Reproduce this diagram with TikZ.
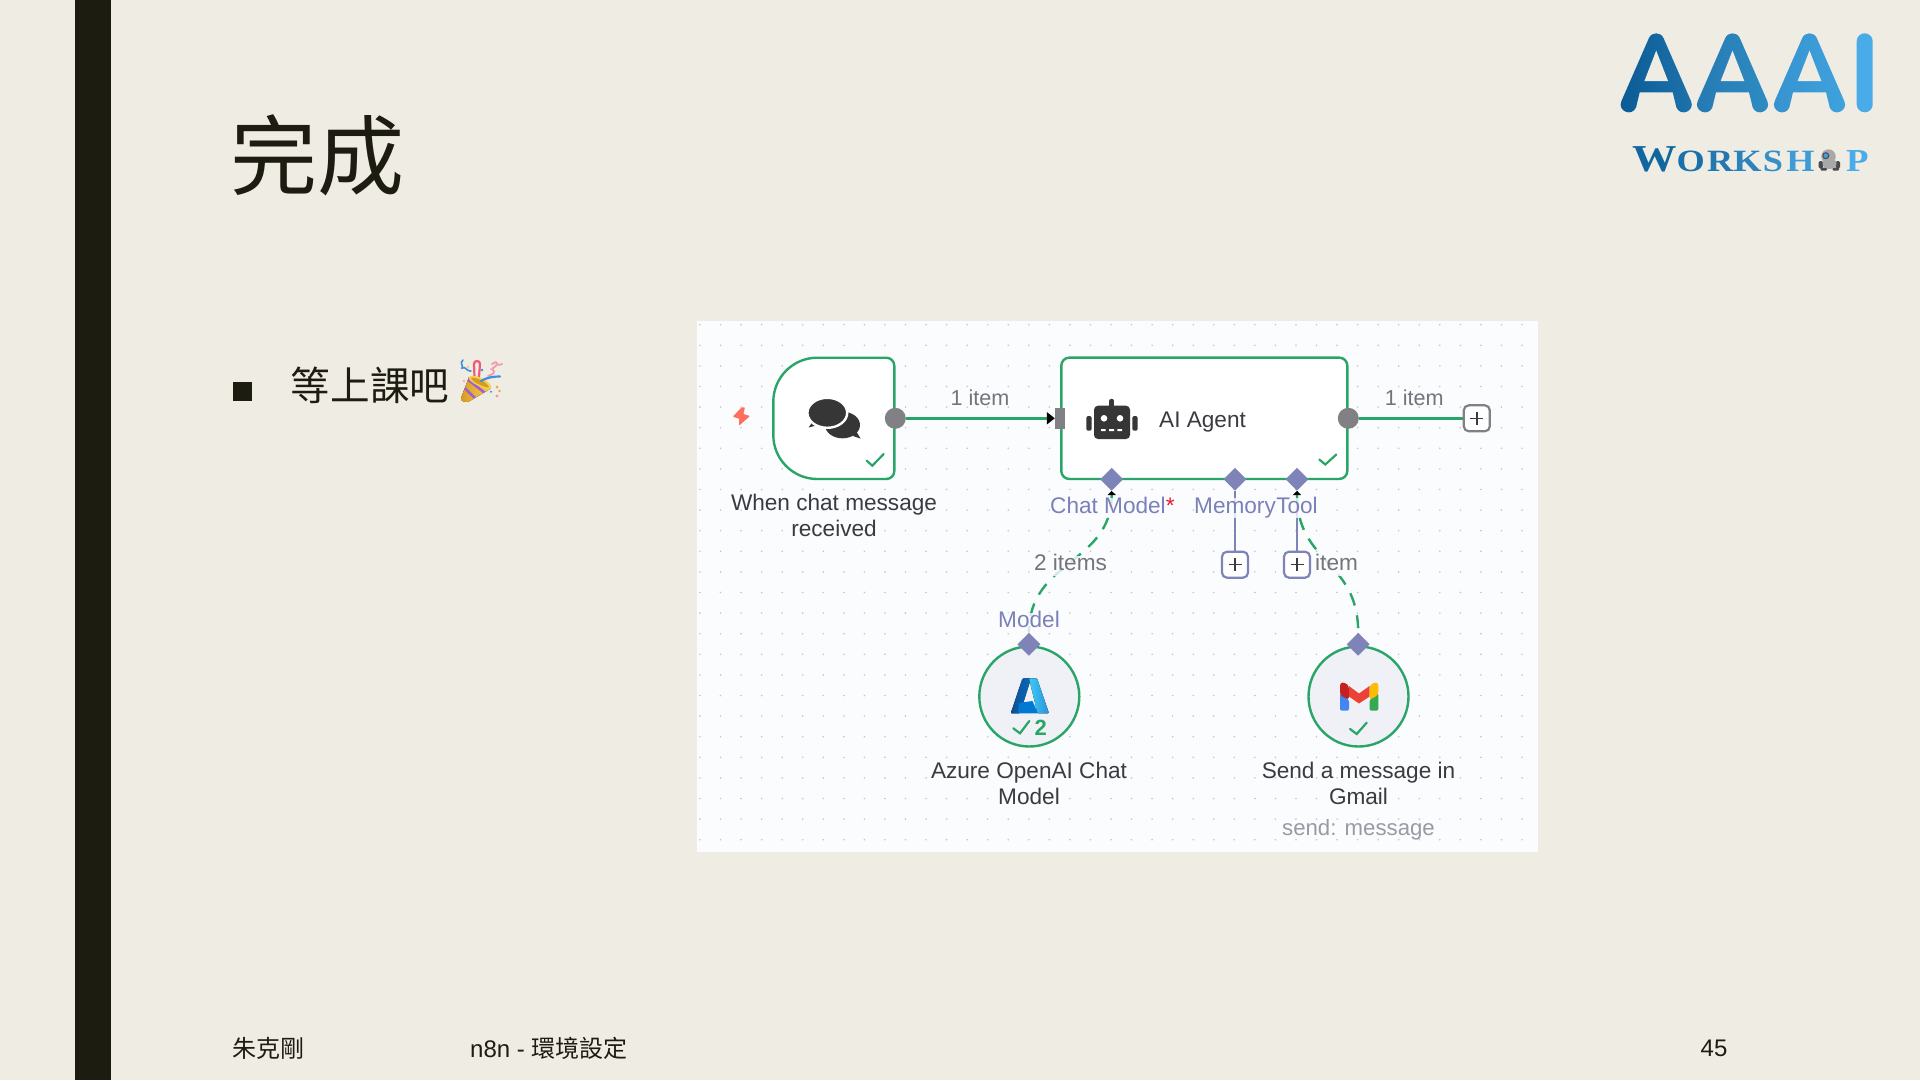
\documentclass[tikz,border=0pt]{standalone}
\usepackage{fontspec}
\usepackage{graphicx}
\usetikzlibrary{arrows.meta,shapes.geometric}
\newfontfamily\cjk{Noto Sans CJK TC}
\newfontfamily\ui{Liberation Sans}
\newfontfamily\logofont{Liberation Serif}
\definecolor{slidebg}{HTML}{EFECE4}
\definecolor{inkdark}{HTML}{1C1C10}
\definecolor{panelbg}{HTML}{FBFCFE}
\definecolor{griddot}{HTML}{C4C6D0}
\definecolor{okgreen}{HTML}{2AA568}
\definecolor{portgray}{HTML}{808085}
\definecolor{portblue}{HTML}{7F84B8}
\definecolor{labelblue}{HTML}{7B80B8}
\definecolor{nodetext}{HTML}{3A3A40}
\definecolor{edgetext}{HTML}{74747C}
\definecolor{subtext}{HTML}{9A9AA5}
\definecolor{iconink}{HTML}{363636}
\definecolor{circlebg}{HTML}{F0F1F6}
\definecolor{boltred}{HTML}{FF6F5C}
\definecolor{confA}{HTML}{3E8FE0}
\definecolor{confB}{HTML}{EE5A78}
\definecolor{confC}{HTML}{F09AB0}
\definecolor{confD}{HTML}{F0A040}
\definecolor{coneA}{HTML}{D89A20}
\definecolor{coneB}{HTML}{F6D050}
\definecolor{coneS}{HTML}{A060D0}
\definecolor{aOneL}{HTML}{0A5A94}
\definecolor{aOneR}{HTML}{1E73AC}
\definecolor{aTwoL}{HTML}{2679B2}
\definecolor{aTwoR}{HTML}{2E8DC4}
\definecolor{aThreeL}{HTML}{3692CE}
\definecolor{aThreeR}{HTML}{3FA3DE}
\definecolor{aFour}{HTML}{4AABE9}
\definecolor{azDark}{HTML}{0F4F96}
\definecolor{azMid}{HTML}{0669BC}
\definecolor{azCore}{HTML}{0078D4}
\definecolor{azLight}{HTML}{3CCBF4}
\definecolor{azLightB}{HTML}{2892DF}
\definecolor{gBlue}{HTML}{4285F4}
\definecolor{gGreen}{HTML}{34A853}
\definecolor{gRed}{HTML}{EA4335}
\definecolor{gDark}{HTML}{C5221F}
\definecolor{gYellow}{HTML}{FBBC04}
\definecolor{botA}{HTML}{A8A8A8}
\definecolor{botB}{HTML}{4A4B50}
\definecolor{botC}{HTML}{3F9FE0}
\definecolor{starred}{HTML}{E8192C}
\tikzset{
  x=1pt,y=-1pt,
  okline/.style={draw=okgreen,line width=2.4pt},
  okdash/.style={draw=okgreen,line width=2.4pt,dash pattern=on 13pt off 10pt},
  tick/.style={draw=okgreen,line width=2.2pt,line cap=round},
  port/.style={circle,fill=portgray,minimum size=21pt,inner sep=0pt},
  subport/.style={diamond,fill=portblue,minimum width=23pt,minimum height=23pt,inner sep=0pt},
  plusbox/.style={rectangle,rounded corners=5pt,fill=white,line width=2.2pt,minimum size=26pt,inner sep=0pt,
    path picture={\draw[line width=1.5pt,draw=nodetext] (path picture bounding box.center) +(-6.5,0) -- +(6.5,0) (path picture bounding box.center) +(0,-6.5) -- +(0,6.5);}},
  uitext/.style={font=\ui\fontsize{22.6}{25}\selectfont,inner sep=0pt,text height=15pt,text depth=5pt},
  nodelabel/.style={uitext,text=nodetext},
  edgelabel/.style={uitext,text=edgetext,fill=panelbg,fill opacity=.8,text opacity=1},
  portlabel/.style={uitext,text=labelblue,fill=panelbg,fill opacity=.8,text opacity=1},
  footer/.style={font=\cjk\fontsize{24}{27}\selectfont,text=inkdark,inner sep=0pt},
}
\newcommand{\logoA}[5]{%
  \begin{scope}[shift={(#1,#2)}]
    \shade[left color=#3,right color=#4]
      (0.7,67.8) -- (28.2,4.8) .. controls (31,-1.6) and (40,-1.6) .. (42.8,4.8)
      -- (70.3,67.8) .. controls (74.6,77.6) and (60,84) .. (55.7,74.2)
      -- (52,59) -- (19,59) -- (15.3,74.2) .. controls (11,84) and (-3.6,77.6) .. (0.7,67.8) -- cycle;
    \fill[#5] (23.7,47.7) -- (35.5,17.3) -- (47.3,47.7) -- cycle;
  \end{scope}}
\newcommand{\lc}[2]{\textcolor[HTML]{#1}{#2}}
\begin{document}
\begin{tikzpicture}
\useasboundingbox (0,0) rectangle (1920,1080);
\fill[slidebg] (0,0) rectangle (1920,1080);
\fill[inkdark] (75,0) rectangle (111,1080);

% title and bullet
\node[name=title,font=\cjk\fontsize{87}{92}\selectfont,text=inkdark,inner sep=0pt] at (317.5,155) {完成};
\fill[inkdark] (232.7,382.3) rectangle (251.7,401);
\node[name=bullet,font=\cjk\fontsize{39.6}{42}\selectfont,text=inkdark,inner sep=0pt] at (370,385) {等上課吧};

% party popper
\draw[confA,line width=1.6pt,line cap=round] (463,360) .. controls (459,363) and (464,366) .. (462,368) .. controls (466,366) and (467,372) .. (471,371);
\draw[confB,line width=2.2pt,line cap=round] (474.5,377) -- (474,364) .. controls (474,360) and (480,360) .. (480,364) -- (479,377);
\draw[confC,line width=1.8pt,line cap=round] (492,364) .. controls (499,359) and (498,366) .. (493,368) .. controls (490,370) and (500,372) .. (488,376);
\draw[confC,line width=1.8pt,line cap=round] (498,365) -- (502,364);
\fill[left color=coneA,right color=coneB] (461,398) -- (469,377) -- (491,388.5) -- (468,402) .. controls (464,402) and (460,401) .. (461,398) -- cycle;
\begin{scope}
\clip (461,398) -- (469,377) -- (491,388.5) -- (468,402) .. controls (464,402) and (460,401) .. (461,398) -- cycle;
\draw[coneS,line width=2.6pt] (463,386.5) -- (477,400);
\draw[coneS,line width=2.6pt] (467,379) -- (485,393);
\end{scope}
\fill[coneB] (469,377) .. controls (472,372) and (494,382) .. (491,388.5) .. controls (487,391) and (467,382) .. (469,377);
\fill[coneA] (471,378) .. controls (474,376) and (488,382) .. (489,387.5) .. controls (485,388) and (472,382) .. (471,378);
\draw[confA,line width=2.2pt,line cap=round] (481,381) .. controls (488,377) and (494,376.5) .. (500,376.5);
\fill[confD] (497,387) circle (1.5) (499.5,391) circle (1.4);
\fill[confC] (497,396) circle (1.7) (464,381) circle (1.2) (491,369) circle (1);
\fill[confA] (491,391.7) circle (1.2) (482,370) circle (1.4);
\fill[coneB] (468,367) circle (1.3);

% logo
\logoA{1620.7}{33.3}{aOneL}{aOneR}{slidebg}
\logoA{1697}{33.3}{aTwoL}{aTwoR}{slidebg}
\logoA{1774}{33.3}{aThreeL}{aThreeR}{slidebg}
\fill[aFour,rounded corners=7.9pt] (1856.7,33.3) rectangle (1872.7,112.3);
\node[name=logoword,font=\logofont\bfseries,inner sep=0pt,anchor=base west] at (1632,171)
 {\scalebox{1.17}[1]{\fontsize{38}{38}\selectfont\lc{10669F}{W}\fontsize{31}{31}\selectfont\lc{1A70AA}{O}\hspace{2pt}\lc{2378B2}{R}\hspace{0pt}\lc{2C83BC}{K}\hspace{1pt}\lc{3590C8}{S}\hspace{3pt}\lc{3E9BD6}{H}}};
\node[name=logop,font=\logofont\bfseries\fontsize{32}{32}\selectfont,text=aFour,inner sep=0pt,anchor=base west] at (1846,171) {\scalebox{1.15}[1]{P}};
\fill[botB,rounded corners=1.5pt] (1818.5,161) rectangle (1823,168.5) (1835.5,161) rectangle (1840,168.5);
\fill[botB,rounded corners=1pt] (1820.5,167.5) rectangle (1827,170.7) (1832.5,167.5) rectangle (1839,170.7);
\fill[botA] (1829.5,163.5) ellipse [x radius=7,y radius=5.5];
\fill[botA] (1828.5,156.5) circle (7.2);
\filldraw[fill=botC,draw=botB,line width=1pt] (1825.8,155.7) circle (3);

% canvas panel
\fill[panelbg] (697,321) rectangle (1538,852);
\foreach \i in {0,...,40}{\foreach \j in {0,...,25}{
  \fill[griddot] (700+20.55*\i,324.7+20.6*\j) circle (0.9);}}

% nodes
\filldraw[okline,fill=white] (817.3,357.7) -- (886.3,357.7) .. controls (890.7,357.7) and (894.3,361.3) .. (894.3,365.7) -- (894.3,471) .. controls (894.3,475.4) and (890.7,479) .. (886.3,479) -- (817.3,479) .. controls (793,479) and (773.3,459.3) .. (773.3,435) -- (773.3,401.7) .. controls (773.3,377.4) and (793,357.7) .. (817.3,357.7) -- cycle;
\node[name=agent,draw=okgreen,line width=2.4pt,fill=white,rounded corners=8pt,minimum width=286pt,minimum height=121.3pt,inner sep=0pt] at (1204.3,418.3) {};
\node[name=gpt,circle,draw=okgreen,line width=2.4pt,fill=circlebg,minimum size=100pt,inner sep=0pt] at (1029.3,696.5) {};
\node[name=gmail,circle,draw=okgreen,line width=2.4pt,fill=circlebg,minimum size=100pt,inner sep=0pt] at (1358.5,696.5) {};

\node[port,name=trigout] at (895.3,418.3) {};
\node[port,name=agentout] at (1348.3,418.3) {};
\node[name=agentin,fill=portgray,minimum width=10pt,minimum height=21pt,inner sep=0pt] at (1060,418.3) {};
\node[subport,name=modelin] at (1111.7,479.3) {};
\node[subport,name=memoryin] at (1235,479.3) {};
\node[subport,name=toolin] at (1297,479.3) {};
\node[subport,name=gptout] at (1028.9,644.3) {};
\node[subport,name=gmailout] at (1358.2,644.3) {};

% connectors
\coordinate (plusmainc) at (1476.8,418.3);
\draw[okline,-{Triangle[color=black,length=8pt,width=12pt]}] (trigout) -- (agentin);
\draw[okline] (agentout) -- (plusmainc);
\coordinate (plusmemc) at (1235,564.7);
\coordinate (plustoolc) at (1297,564.7);
\draw[draw=portblue,line width=2.4pt] (memoryin) -- (plusmemc);
\draw[draw=portblue,line width=2.4pt] (toolin) -- (plustoolc);
\draw[okdash,{Triangle[color=black,length=4pt,width=8pt]}-] (modelin.south) .. controls +(0,73) and +(0,-73) .. (gptout.north);
\draw[okdash,{Triangle[color=black,length=4pt,width=8pt]}-] (toolin.south) .. controls +(0,73) and +(0,-73) .. (gmailout.north);

% icons
\fill[iconink] (808.7,427.5) -- (813,421) -- (818,425) -- cycle;
\fill[iconink] (860.5,438.5) -- (853,436) -- (856,431) -- cycle;
\fill[iconink] (842.5,425) ellipse [x radius=17.5,y radius=13.3];
\filldraw[fill=iconink,draw=white,line width=2.4pt] (827.3,412.8) ellipse [x radius=19.9,y radius=15];
\draw[tick] (866.7,460.7) -- (872.3,465.7) -- (883.7,454);
\fill[boltred,rounded corners=0.8pt] (741.7,407.3) -- (732.7,416.7) -- (739.3,418.7) -- (739,425.7) -- (750,416) -- (743.3,414) -- (745,407.3) -- cycle;

\fill[iconink,rounded corners=1.5pt] (1086.3,416) rectangle (1091.7,430.7);
\fill[iconink,rounded corners=1.5pt] (1132.3,416) rectangle (1137.7,430.7);
\fill[iconink,rounded corners=4pt] (1094,405.7) rectangle (1130,439);
\draw[iconink,line width=4.5pt,line cap=round] (1111.7,401) -- (1111.7,408);
\fill[white] (1104,418.3) circle (3.3) (1120,418.3) circle (3.3);
\fill[white] (1101,429) rectangle (1105.7,431) (1109,429) rectangle (1114,431) (1117.3,429) rectangle (1122,431);
\draw[tick] (1319.3,459.5) -- (1325.3,464.5) -- (1336.3,454.5);

% azure icon
\fill[left color=azDark,right color=azMid,rounded corners=1pt] (1022.5,678.3) -- (1031,678.3) -- (1020,713.3) -- (1010.7,713.3) -- cycle;
\fill[azCore,rounded corners=0.5pt] (1019,703) -- (1032.5,701) -- (1038,713.3) -- (1018,713.3) -- cycle;
\fill[left color=azLight,right color=azLightB,rounded corners=1pt] (1029,678.3) -- (1037,678.3) -- (1049,713.3) -- (1037.5,713.3) -- cycle;
\draw[tick] (1013.3,728.3) -- (1020,733.3) -- (1029.3,721);
\node[name=runcount,font=\ui\bfseries\fontsize{22}{25}\selectfont,text=okgreen,inner sep=0pt] at (1040.7,727.5) {2};

% gmail icon
\fill[gRed] (1349,686) -- (1359,693.5) -- (1369.5,686) -- (1369.5,696.5) -- (1359,703.5) -- (1349,696.5) -- cycle;
\fill[gBlue,rounded corners=2pt] (1340,693) -- (1349,699.5) -- (1349,710.7) -- (1340,710.7) -- cycle;
\fill[gGreen,rounded corners=2pt] (1369.5,699.5) -- (1378.3,693) -- (1378.3,710.7) -- (1369.5,710.7) -- cycle;
\fill[gDark,rounded corners=3pt] (1340,695) -- (1340,682.5) -- (1345,682.5) -- (1349,686) -- (1349,700) -- cycle;
\fill[gYellow,rounded corners=3pt] (1378.3,695) -- (1378.3,682.5) -- (1373.5,682.5) -- (1369.5,686) -- (1369.5,700) -- cycle;
\draw[tick] (1350,729) -- (1356.7,734) -- (1366.7,722.7);

% labels
\node[nodelabel,name=ltrig] at (834,505) {When chat message};
\node[nodelabel,name=ltrigb] at (834,531) {received};
\node[edgelabel,name=litem,fill=none,font=\ui\fontsize{21.6}{25}\selectfont] at (980,400) {1 item};
\node[edgelabel,name=litemb,fill=none,font=\ui\fontsize{21.6}{25}\selectfont] at (1414.3,400) {1 item};
\node[nodelabel,name=lagent,anchor=west] at (1159,422) {AI Agent};
\node[portlabel,name=lmodel,anchor=west] at (1050,508) {Chat Model\textcolor{starred}{*}};
\node[portlabel,name=lmem] at (1235,508) {Memory};
\node[portlabel,name=ltool] at (1297,508) {Tool};
\node[edgelabel,name=ltwo] at (1070.5,565.5) {2 items};
\node[edgelabel,name=lone,anchor=west] at (1315,565.5) {item};
\node[portlabel,name=lgpt] at (1029,622.5) {Model};
\node[nodelabel,name=lazure] at (1029,773.5) {Azure OpenAI Chat};
\node[nodelabel,name=lazureb] at (1029,799) {Model};
\node[nodelabel,name=lsend] at (1358.5,773.5) {Send a message in};
\node[nodelabel,name=lsendb] at (1358.5,799) {Gmail};
\node[uitext,text=subtext,name=lsub,font=\ui\fontsize{22.2}{25}\selectfont] at (1358.5,830) {send: message};

% plus boxes on top of labels
\node[plusbox,draw=portgray,name=plusmain] at (plusmainc) {};
\node[plusbox,draw=portblue,name=plusmem] at (plusmemc) {};
\node[plusbox,draw=portblue,name=plustool] at (plustoolc) {};

% footer
\node[footer,name=fauthor,anchor=west] at (232.7,1048) {朱克剛};
\node[footer,name=fcourse,anchor=west] at (470,1048) {{\ui n8n - }環境設定};
\node[footer,name=fpage,font=\ui\fontsize{24}{27}\selectfont] at (1714,1048) {45};
\end{tikzpicture}
\end{document}
